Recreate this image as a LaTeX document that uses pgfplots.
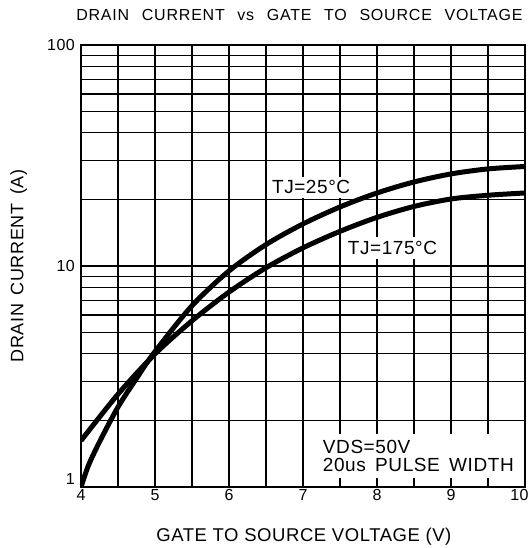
\documentclass[border=0pt]{standalone}
\usepackage{pgfplots}
\pgfplotsset{compat=1.18}
\usepackage{fontspec}
\setmainfont{Liberation Sans}[LetterSpace=3]
\newfontfamily\titlefont{Liberation Sans}[LetterSpace=5, WordSpace=2.4]
\newfontfamily\widefont{Liberation Sans}[LetterSpace=3, WordSpace=2]
\newfontfamily\midfont{Liberation Sans}[LetterSpace=3, WordSpace=1.6]

\begin{document}
\begin{tikzpicture}
\begin{axis}[
  scale only axis,
  width=444pt, height=442pt,
  xmin=4, xmax=10,
  ymode=log, ymin=1, ymax=100,
  xtick={4,5,6,7,8,9,10},
  xticklabels={4,5,6,7,8,9,10\hspace*{11pt}},
  minor xtick={4.5,5.5,6.5,7.5,8.5,9.5},
  ytick={1,10,100},
  minor ytick={2,3,4,5,6,7,8,9,20,30,40,50,60,70,80,90},
  yticklabels={\raisebox{16pt}{1},10,100},
  xmajorgrids, xminorgrids, ymajorgrids, yminorgrids,
  every major grid/.style={line width=2.4pt, black},
  every minor grid/.style={line width=1.1pt, black},
  axis line style={line width=1.4pt, black},
  tick align=inside,
  major tick length=9pt, minor tick length=9pt,
  every major tick/.style={line width=2.4pt, black},
  every minor tick/.style={line width=1.1pt, black},
  /pgf/number format/assume math mode=true,
  tick label style={font=\fontsize{16}{16}\selectfont},
  xticklabel style={anchor=north, inner sep=0pt, yshift=-2pt},
  yticklabel style={anchor=east, inner sep=0pt, xshift=-6pt},
  title={DRAIN CURRENT vs GATE TO SOURCE VOLTAGE},
  title style={at={(axis description cs:0.492,1.0543)}, anchor=base, yshift=-6pt,
    font=\titlefont\fontsize{16}{16}\selectfont},
  xlabel={GATE TO SOURCE VOLTAGE (V)},
  xlabel style={at={(axis description cs:0.502,-0.1222)}, anchor=base,
    font=\fontsize{18.5}{18.5}\selectfont},
  ylabel={DRAIN CURRENT (A)},
  ylabel style={at={(axis description cs:-0.13,0.5)}, anchor=base,
    font=\midfont\fontsize{18}{18}\selectfont},
]

% TJ = 25 C
\addplot[black, line width=5pt, smooth] coordinates {
  (4,1.0) (4.1,1.25) (4.25,1.6) (4.5,2.3) (4.75,3.1) (5,4.1) (5.5,6.61)
  (6,9.5) (6.5,12.5) (7,15.5) (7.5,18.5) (8,21.4) (8.5,24.0) (9,26.1)
  (9.5,27.5) (10,28.2)
};
% TJ = 175 C
\addplot[black, line width=5pt, smooth] coordinates {
  (4,1.62) (4.5,2.63) (5,4.0) (5.5,5.65) (6,7.62) (6.5,9.82) (7,12.08)
  (7.5,14.35) (8,16.6) (8.5,18.6) (9,20.1) (9.5,20.9) (10,21.4)
};

\node[fill=white, inner sep=4pt, font=\fontsize{19}{19}\selectfont]
  at (axis cs:7.11,22.7) {TJ=25°C};
\node[fill=white, inner sep=4pt, font=\fontsize{19}{19}\selectfont]
  at (axis cs:8.21,12.05) {TJ=175°C};
\node[fill=white, anchor=south west, align=left, inner xsep=5pt, inner ysep=6pt,
  yshift=9pt, font=\widefont\fontsize{19}{18}\selectfont]
  at (axis cs:7.2,1) {VDS=50V\\20us PULSE WIDTH};

\coordinate (sw) at (rel axis cs:0,0);
\coordinate (ne) at (rel axis cs:1,1);
\end{axis}
\pgfresetboundingbox
\path ([shift={(-81pt,-61pt)}]sw) rectangle ([shift={(6pt,45pt)}]ne);
\end{tikzpicture}
\end{document}
